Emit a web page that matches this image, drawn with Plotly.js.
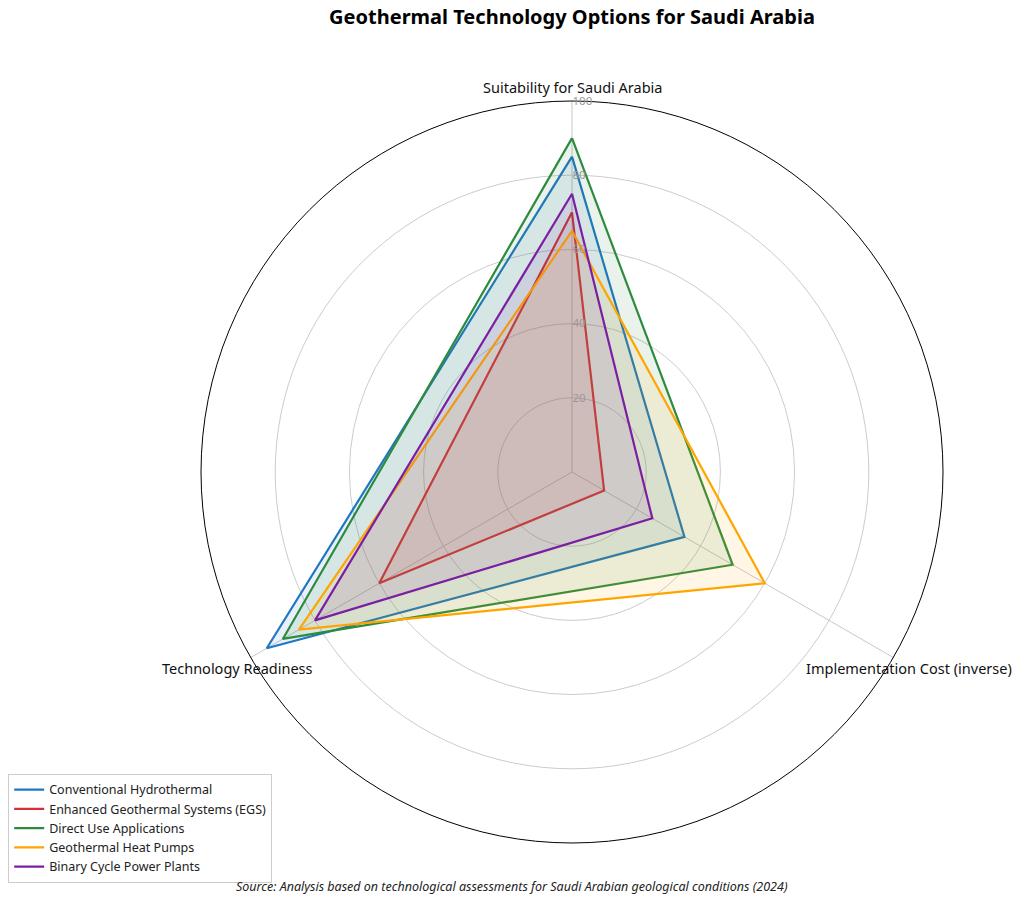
<!DOCTYPE html>
<html>
<head>
<meta charset="utf-8">
<script src="https://cdn.plot.ly/plotly-3.0.1.min.js"></script>
<style>
  html, body { margin: 0; padding: 0; background: #fff; }
  #chart { width: 1024px; height: 903px; }
</style>
</head>
<body>
<div id="chart"></div>
<script>
// axes of the radar, clockwise from the top
var categories = ['Suitability for Saudi Arabia', 'Implementation Cost (inverse)', 'Technology Readiness'];

var seriesNames = [
  'Conventional Hydrothermal',
  'Enhanced Geothermal Systems (EGS)',
  'Direct Use Applications',
  'Geothermal Heat Pumps',
  'Binary Cycle Power Plants'
];

// scores (0-100)
var hydrothermal = [85, 35, 95];
var egs = [70, 10, 60];
var directUse = [90, 50, 90];
var heatPumps = [65, 60, 85];
var binaryCycle = [75, 25, 80];

var radialTicks = [20, 40, 60, 80, 100];

var colors = ['#1f77c4', '#d62f3a', '#2e8b3e', '#ffa500', '#7b1fa2'];
var fills = ['rgba(31,119,196,0.1)', 'rgba(214,47,58,0.1)', 'rgba(46,139,62,0.1)',
             'rgba(255,165,0,0.1)', 'rgba(123,31,162,0.1)'];

var allSeries = [hydrothermal, egs, directUse, heatPumps, binaryCycle];

function closed(arr) { return arr.concat([arr[0]]); }

var traces = [];
allSeries.forEach(function (vals, i) {
  // filled area
  traces.push({
    type: 'scatterpolar',
    r: closed(vals),
    theta: closed(categories),
    mode: 'lines',
    fill: 'toself',
    fillcolor: fills[i],
    line: { width: 0, color: colors[i] },
    showlegend: false,
    hoverinfo: 'skip'
  });
  // outline
  traces.push({
    type: 'scatterpolar',
    r: closed(vals),
    theta: closed(categories),
    mode: 'lines',
    name: seriesNames[i],
    line: { width: 2.2, color: colors[i] }
  });
});

// category labels placed like the original (outside the circle, below the lower spokes)
var labelPos = [
  { x: 572 / 1024, y: 1 - 87 / 903 },
  { x: 909 / 1024, y: 1 - 668 / 903 },
  { x: 237 / 1024, y: 1 - 668 / 903 }
];
var annotations = categories.map(function (c, i) {
  return {
    text: c, xref: 'paper', yref: 'paper',
    x: labelPos[i].x, y: labelPos[i].y,
    xanchor: 'center', yanchor: 'middle',
    showarrow: false,
    font: { size: 14.5, color: '#111' }
  };
});
annotations.push({
  text: '<i>Source: Analysis based on technological assessments for Saudi Arabian geological conditions (2024)</i>',
  xref: 'paper', yref: 'paper',
  x: 0.5, y: 0.0188,
  xanchor: 'center', yanchor: 'middle',
  showarrow: false,
  font: { size: 12.5, color: '#222' }
});

var layout = {
  width: 1024,
  height: 903,
  margin: { l: 0, r: 0, t: 0, b: 0 },
  paper_bgcolor: '#fff',
  font: { family: 'Noto Sans, Open Sans, sans-serif', color: '#222' },
  title: {
    text: '<b>Geothermal Technology Options for Saudi Arabia</b>',
    font: { size: 20, color: '#000' },
    x: 0.5586, xanchor: 'center',
    y: 0.981, yanchor: 'middle'
  },
  polar: {
    domain: { x: [0.1963, 0.9209], y: [0.0664, 0.8882] },
    bgcolor: '#fff',
    angularaxis: {
      type: 'category',
      rotation: 90,
      direction: 'clockwise',
      showticklabels: false,
      gridcolor: '#c8c8c8',
      linecolor: '#000',
      linewidth: 1,
      ticks: ''
    },
    radialaxis: {
      range: [0, 100],
      tickvals: radialTicks,
      angle: 90,
      tickangle: 90,
      side: 'clockwise',
      showline: false,
      ticks: '',
      tickfont: { size: 11.5, color: '#999' },
      gridcolor: '#cccccc'
    }
  },
  legend: {
    x: 0.008, y: 0.1429,
    xanchor: 'left', yanchor: 'top',
    bordercolor: '#cccccc', borderwidth: 1,
    bgcolor: '#fff',
    font: { size: 12.5, color: '#222' }
  },
  annotations: annotations
};

Plotly.newPlot('chart', traces, layout, { displayModeBar: false, staticPlot: true });
</script>
</body>
</html>
